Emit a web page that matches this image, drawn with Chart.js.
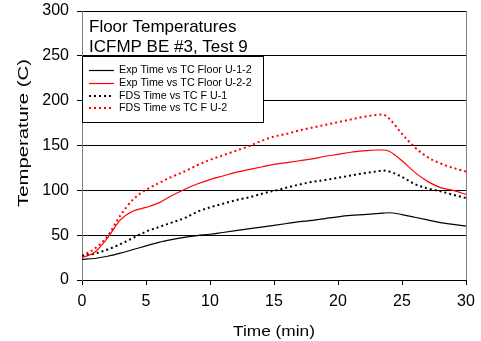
<!DOCTYPE html>
<html>
<head>
<meta charset="utf-8">
<script src="https://cdn.jsdelivr.net/npm/chart.js@4.4.1/dist/chart.umd.min.js"></script>
<style>
  html, body { margin: 0; padding: 0; background: #ffffff; }
  #wrap { width: 481px; height: 341px; }
</style>
</head>
<body>
<div id="wrap"><canvas id="c" width="481" height="341"></canvas></div>
<script>
// ---- data ----
const timeMin = [0,1,2,3,4,5,6,7,8,9,10,11,12,13,14,15,16,17,18,19,20,21,22,23,23.5,24,25,26,27,28,29,30];
const expU12 = [23,24,26.5,30,34,38,42,45,47.5,49.5,51,53,55,57,59,61,63,65,66.5,68.5,70.5,72,73,74,74.5,75,73,70,67,64,62,60];
const expU22 = [25,31,47,67,77,81,86,94,101,107,112,116,120,123,126,129,131,133,135,138,140,142.5,144,145,145,143.5,133,120,110,103,100,95.5];
const fdsU1  = [27,29.5,34,40,47,54,59,64,69,76,81,85,89,92,96,99.5,103,106.5,109.5,111.5,114,116.5,119,121,122,121,115,107,102,99,95,91.5];
const fdsU2  = [27,35,49,72,90,100.5,108,115,121,128,134,139,144,149,155,160,163,167,170,173,176,179,182,184,184.5,180,163,148,137,130,125,121];
const seriesNames = ['Exp Time vs TC Floor U-1-2','Exp Time vs TC Floor U-2-2','FDS Time vs TC F U-1','FDS Time vs TC F U-2'];
const titleLines = ['Floor Temperatures','ICFMP BE #3, Test 9'];
const xTitle = 'Time (min)';
const yTitle = 'Temperature (C)';

const FONT = "'Liberation Sans', Arial, Helvetica, sans-serif";
const pts = arr => arr.map((v, i) => ({ x: timeMin[i], y: v }));

const styles = [
  { color: '#000000', width: 1.2, dash: [] },
  { color: '#ff0000', width: 1.2, dash: [] },
  { color: '#000000', width: 2, dash: [2, 3] },
  { color: '#ff0000', width: 2, dash: [2, 3] }
];
const values = [expU12, expU22, fdsU1, fdsU2];

const datasets = values.map((arr, i) => ({
  label: seriesNames[i],
  data: pts(arr),
  borderColor: styles[i].color,
  borderWidth: styles[i].width,
  borderDash: styles[i].dash,
  borderCapStyle: 'butt',
  pointRadius: 0,
  fill: false,
  cubicInterpolationMode: 'monotone'
}));

const overlay = {
  id: 'overlay',
  afterDatasetsDraw(chart) {
    const ctx = chart.ctx;
    const a = chart.chartArea;
    ctx.save();
    // right border of plot
    ctx.strokeStyle = '#808080';
    ctx.lineWidth = 1;
    ctx.beginPath();
    ctx.moveTo(Math.round(a.right) + 0.5, a.top);
    ctx.lineTo(Math.round(a.right) + 0.5, a.bottom);
    ctx.stroke();
    // in-plot title
    ctx.fillStyle = '#000';
    ctx.font = '17px ' + FONT;
    ctx.textAlign = 'left';
    ctx.textBaseline = 'alphabetic';
    ctx.fillText(titleLines[0], 89, 32);
    ctx.fillText(titleLines[1], 89, 52);
    // legend box
    ctx.fillStyle = '#fff';
    ctx.fillRect(82.5, 56.5, 181, 66);
    ctx.strokeStyle = '#000';
    ctx.lineWidth = 1;
    ctx.strokeRect(82.5, 56.5, 181, 66);
    const ys = [70, 82.8, 95.6, 108.4];
    ctx.font = '10.7px ' + FONT;
    ctx.textBaseline = 'middle';
    for (let i = 0; i < 4; i++) {
      ctx.strokeStyle = styles[i].color;
      ctx.lineWidth = styles[i].width;
      ctx.setLineDash(styles[i].dash);
      ctx.beginPath();
      const y = Math.round(ys[i]) + (styles[i].width === 2 ? 0 : 0.5);
      ctx.moveTo(89, y);
      ctx.lineTo(114, y);
      ctx.stroke();
      ctx.setLineDash([]);
      ctx.fillStyle = '#000';
      ctx.fillText(seriesNames[i], 119, ys[i]);
    }
    ctx.restore();
  },
  afterDraw(chart) {
    const ctx = chart.ctx;
    ctx.save();
    ctx.fillStyle = '#000';
    // x title (stretched like the original)
    ctx.font = '14px ' + FONT;
    ctx.textAlign = 'center';
    ctx.textBaseline = 'alphabetic';
    let w = ctx.measureText(xTitle).width;
    ctx.translate(274, 336);
    ctx.scale(82 / w, 1);
    ctx.fillText(xTitle, 0, 0);
    ctx.restore();
    ctx.save();
    ctx.fillStyle = '#000';
    ctx.font = '15px ' + FONT;
    ctx.textAlign = 'center';
    ctx.textBaseline = 'alphabetic';
    w = ctx.measureText(yTitle).width;
    ctx.translate(27.7, 133);
    ctx.rotate(-Math.PI / 2);
    ctx.scale(148 / w, 1);
    ctx.fillText(yTitle, 0, 0);
    ctx.restore();
  }
};

new Chart(document.getElementById('c'), {
  type: 'line',
  data: { datasets },
  options: {
    responsive: false,
    devicePixelRatio: 1,
    animation: false,
    layout: { padding: { top: 11, right: 15, left: 0, bottom: 0 } },
    plugins: { legend: { display: false }, tooltip: { enabled: false }, title: { display: false } },
    scales: {
      x: {
        type: 'linear',
        min: 0, max: 30,
        ticks: { stepSize: 5, color: '#000', font: { size: 16, family: FONT }, padding: 7, maxRotation: 0 },
        grid: { drawOnChartArea: false, drawTicks: true, tickLength: 5, color: '#000' },
        border: { color: '#000', width: 1 },
        afterFit(scale) { scale.height = 61; scale.paddingLeft = 0; scale.paddingRight = 0; }
      },
      y: {
        min: 0, max: 300,
        ticks: { stepSize: 50, color: '#000', font: { size: 16, family: FONT }, padding: 8 },
        grid: { color: '#000', lineWidth: 1, tickLength: 5, drawTicks: true },
        border: { color: '#808080', width: 1 },
        afterFit(scale) { scale.width = 82; scale.paddingTop = 0; scale.paddingBottom = 0; }
      }
    }
  },
  plugins: [overlay]
});
</script>
</body>
</html>
